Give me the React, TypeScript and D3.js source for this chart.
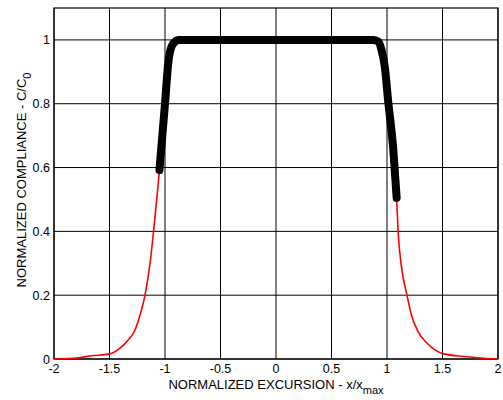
import React from "react";
import * as d3 from "d3";

const xTicks = [-2, -1.5, -1, -0.5, 0, 0.5, 1, 1.5, 2];
const yTicks = [0, 0.2, 0.4, 0.6, 0.8, 1];

const redX = [-2, -1.78, -1.66, -1.5, -1.405, -1.33, -1.27, -1.225, -1.18, -1.135, -1.105, -1.075, -1.05, -1.0, -0.95, -0.9, 0, 0.9, 0.95, 1.0, 1.05, 1.087, 1.1, 1.13, 1.18, 1.22, 1.28, 1.36, 1.51, 1.69, 2];
const redY = [0, 0.004, 0.01, 0.016, 0.034, 0.06, 0.091, 0.138, 0.2, 0.3, 0.394, 0.5, 0.59, 0.8, 0.96, 0.995, 1, 0.995, 0.97, 0.84, 0.68, 0.5, 0.4, 0.29, 0.2, 0.138, 0.086, 0.05, 0.016, 0.008, 0];

const blackX = [-1.05, -1.0, -0.97, -0.94, -0.9, -0.88, 0.877, 0.92, 0.95, 0.98, 1.01, 1.057, 1.087];
const blackY = [0.592, 0.8, 0.93, 0.98, 0.997, 1, 1, 0.995, 0.969, 0.916, 0.81, 0.655, 0.505];

const W = 503;
const H = 400;
const L = 54, R = 498, T = 8, B = 359;

export default function App() {
  const x = d3.scaleLinear().domain([-2, 2]).range([L, R]);
  const y = d3.scaleLinear().domain([0, 1.1]).range([B, T]);
  const line = d3
    .line<[number, number]>()
    .x((d) => x(d[0]))
    .y((d) => y(d[1]))
    .curve(d3.curveMonotoneX);
  const red = redX.map((v, i) => [v, redY[i]] as [number, number]);
  const black = blackX.map((v, i) => [v, blackY[i]] as [number, number]);
  const font = "'Liberation Sans', Arial, sans-serif";
  return (
    <svg
      width={W}
      height={H}
      style={{ position: "absolute", left: 0, top: 0, background: "#fff" }}
      fontFamily={font}
    >
      <rect x={0} y={0} width={W} height={H} fill="#fff" />
      {xTicks.map((t) => (
        <line key={"gx" + t} x1={x(t)} x2={x(t)} y1={T} y2={B} stroke="#000" strokeWidth={1} />
      ))}
      {yTicks.map((t) => (
        <line key={"gy" + t} x1={L} x2={R} y1={y(t)} y2={y(t)} stroke="#000" strokeWidth={1} />
      ))}
      <rect x={L} y={T} width={R - L} height={B - T} fill="none" stroke="#000" strokeWidth={1.2} />
      <path d={line(red) || ""} fill="none" stroke="#ff0000" strokeWidth={1.6} />
      <path
        d={line(black) || ""}
        fill="none"
        stroke="#000"
        strokeWidth={8}
        strokeLinejoin="round"
        strokeLinecap="round"
      />
      {xTicks.map((t) => (
        <text key={"tx" + t} x={x(t)} y={372.5} fontSize={12.5} textAnchor="middle" fill="#000">
          {String(t)}
        </text>
      ))}
      {yTicks.map((t) => (
        <text key={"ty" + t} x={L - 4} y={y(t) + 4.5} fontSize={12.5} textAnchor="end" fill="#000">
          {String(t)}
        </text>
      ))}
      <text x={(L + R) / 2} y={388.5} fontSize={13} textAnchor="middle" fill="#000">
        NORMALIZED EXCURSION - x/x
        <tspan fontSize={11} dy={5}>max</tspan>
      </text>
      <text
        transform={`translate(25.5, 180) rotate(-90)`}
        fontSize={13}
        textAnchor="middle"
        fill="#000"
      >
        NORMALIZED COMPLIANCE - C/C
        <tspan fontSize={11} dy={5}>0</tspan>
      </text>
    </svg>
  );
}
